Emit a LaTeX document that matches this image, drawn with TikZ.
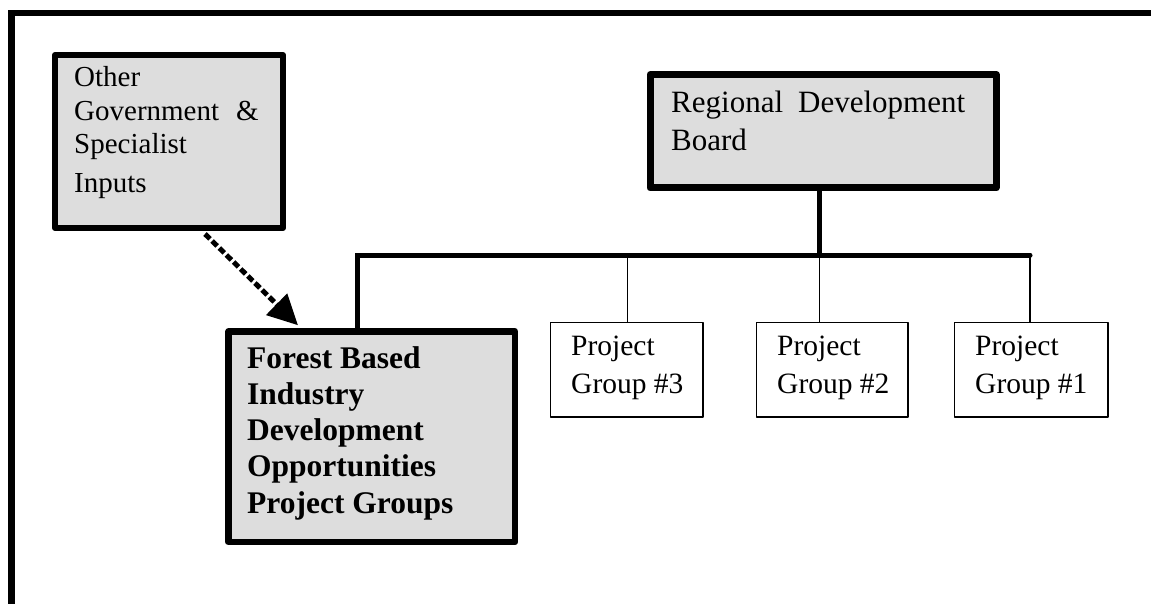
\documentclass[tikz,border=0pt]{standalone}
\usepackage{fontspec}
\setmainfont{Liberation Serif}
\usetikzlibrary{arrows.meta,calc}
\definecolor{boxgray}{RGB}{221,221,221}
\tikzset{
  gbox/.style={draw=black, fill=boxgray, line join=round, inner sep=0pt, anchor=north west},
  wbox/.style={draw=black, fill=white, line width=1.5pt, line join=round, inner sep=0pt, anchor=north west},
  txt/.style={inner sep=0pt, anchor=base west},
  thickline/.style={line width=5pt},
  thinline/.style={line width=1.5pt},
  dasharrow/.style={line width=5pt, dash pattern=on 7pt off 3pt, -{Triangle[length=30pt,width=29pt]}},
}
\begin{document}
\begin{tikzpicture}[x=1pt,y=-1pt]
\useasboundingbox[fill=white] (0,0) rectangle (1151,604);
% outer frame (top and left edges)
\draw[line width=6.5pt] (11.5,610) -- (11.5,13) -- (1160,13);

% boxes
\node[gbox, line width=6pt, minimum width=228pt, minimum height=173pt] (oth) at (52,52) {};
\node[gbox, line width=6.5pt, minimum width=286.5pt, minimum height=210.5pt] (fbi) at (225.25,328.25) {};
\node[gbox, line width=7pt, minimum width=346pt, minimum height=113.5pt] (rdb) at (646.5,71) {};
\node[wbox, minimum width=152.5pt, minimum height=94.5pt] (pg3) at (549.75,321.75) {};
\node[wbox, minimum width=151.5pt, minimum height=94.5pt] (pg2) at (755.75,321.75) {};
\node[wbox, minimum width=153.5pt, minimum height=94.5pt] (pg1) at (953.75,321.75) {};

% texts
\node[txt] (othT) at (74,87) {\parbox[t]{200pt}{\fontsize{29}{33.5}\selectfont Other\\Government\hspace{17pt}\&\\Specialist\\[5pt]Inputs}};
\node[txt] (rdbT) at (671,113) {\parbox[t]{320pt}{\fontsize{31}{38}\selectfont Regional\hspace{15pt}Development\\Board}};
\node[txt] (fbiT) at (247,368) {\parbox[t]{260pt}{\fontsize{31.5}{36.3}\selectfont\bfseries Forest Based\\Industry\\Development\\Opportunities\\Project Groups}};
\node[txt] (pg3T) at (571,355) {\parbox[t]{140pt}{\fontsize{29.5}{38}\selectfont Project\\Group \#3}};
\node[txt] (pg2T) at (777,355) {\parbox[t]{140pt}{\fontsize{29.5}{38}\selectfont Project\\Group \#2}};
\node[txt] (pg1T) at (975,355) {\parbox[t]{140pt}{\fontsize{29.5}{38}\selectfont Project\\Group \#1}};

% junction coordinates
\coordinate (jn) at (819.5,255);
\coordinate (barL) at (357,255);
\coordinate (barR) at (1030,255);
\coordinate (arS) at (205,0);
\coordinate (arE) at (298,0);

% connectors
\draw[thickline] (rdb.south -| jn) -- (jn);
\draw[thickline] (fbi.north -| barL) -- (barL) -- (jn);
\draw[thickline, line cap=round] (jn) -- (barR);
\draw[thinline] (pg3.north -| 627.5,0) -- (barL -| 627.5,0);
\draw[thinline] (pg2.north -| jn) -- (jn);
\draw[thinline] (pg1.north -| barR) -- (barR);
\draw[dasharrow] ($(oth.south -| arS)+(0,3)$) -- ($(fbi.north -| arE)+(0,-3)$);
\end{tikzpicture}
\end{document}
